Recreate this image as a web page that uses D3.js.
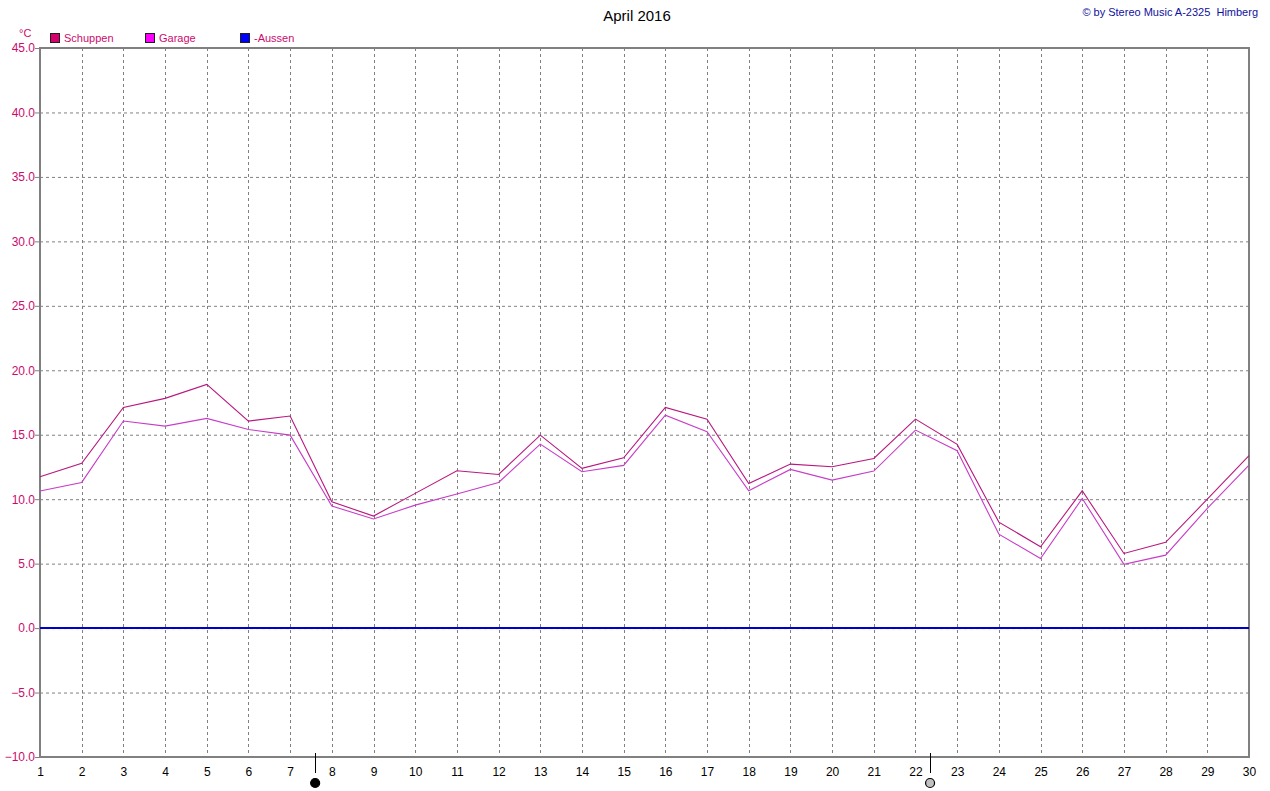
<!DOCTYPE html>
<html><head><meta charset="utf-8">
<script src="https://cdn.jsdelivr.net/npm/d3@7"></script>
<style>body{margin:0;background:#fff}svg{display:block}text{font-family:"Liberation Sans",Arial,sans-serif}</style>
</head><body><svg id="c" width="1270" height="791"></svg>
<script>
const days = d3.range(1, 31);
const schuppen = [11.74,12.78,17.12,17.82,18.9,16.06,16.45,9.8,8.69,10.45,12.2,11.92,14.97,12.39,13.21,17.12,16.21,11.22,12.72,12.52,13.16,16.21,14.25,8.22,6.31,10.65,5.79,6.65,10.0,13.37];
const garage = [10.63,11.3,16.06,15.67,16.27,15.41,14.97,9.47,8.46,9.54,10.4,11.3,14.27,12.13,12.62,16.52,15.23,10.65,12.31,11.48,12.18,15.36,13.76,7.29,5.4,10.06,4.94,5.66,9.28,12.65];
const aussen = days.map(() => 0);
const yTicks = [-10,-5,0,5,10,15,20,25,30,35,40,45];
const moons = [{day:7.6, type:"new"},{day:22.35, type:"full"}];
const legend = [{name:"Schuppen", color:"#d8006c"},{name:"Garage", color:"#ff00ff"},{name:"-Aussen", color:"#0000ff"}];

const svg = d3.select("#c");
const x = d3.scaleLinear().domain([1,30]).range([40,1249]);
const y = d3.scaleLinear().domain([-10,45]).range([757,48]);
const labelColor = "#cc0a6e";

// grid
svg.append("g").selectAll("line").data(yTicks.slice(1,-1)).join("line")
  .attr("x1",40).attr("x2",1249).attr("y1",d=>y(d)+0.5).attr("y2",d=>y(d)+0.5)
  .attr("stroke","#808080").attr("stroke-dasharray","3,3");
svg.append("g").selectAll("line").data(days.slice(1,-1)).join("line")
  .attr("x1",d=>Math.round(x(d))+0.5).attr("x2",d=>Math.round(x(d))+0.5).attr("y1",48).attr("y2",757)
  .attr("stroke","#808080").attr("stroke-dasharray","3,3");

// frame
svg.append("rect").attr("x",40).attr("y",48).attr("width",1209).attr("height",709)
  .attr("fill","none").attr("stroke","#808080").attr("stroke-width",2);

// y axis
const ya = svg.append("g").attr("transform","translate(39,0)")
  .call(d3.axisLeft(y).tickValues(yTicks).tickFormat(d3.format(".1f")).tickSize(4));
ya.select(".domain").remove();
ya.selectAll("line").attr("stroke","#808080");
ya.selectAll("text").attr("fill",labelColor).attr("font-size",12).attr("x",-4);

// x axis
const xa = svg.append("g").attr("transform","translate(0,757)")
  .call(d3.axisBottom(x).tickValues(days).tickFormat(d3.format("d")).tickSize(0));
xa.select(".domain").remove();
xa.selectAll("text").attr("fill","#000").attr("font-size",12).attr("dy",0).attr("y",19);

// lines
const line = d3.line().x((d,i)=>x(days[i])).y(d=>y(d));
svg.append("path").datum(aussen).attr("d",line).attr("fill","none").attr("stroke","#0000cc").attr("stroke-width",2);
svg.append("path").datum(garage).attr("d",line).attr("fill","none").attr("stroke","#c83cc8").attr("stroke-width",1.1);
svg.append("path").datum(schuppen).attr("d",line).attr("fill","none").attr("stroke","#b8187e").attr("stroke-width",1.1);

// moons
const mg = svg.append("g").selectAll("g").data(moons).join("g");
mg.append("line").attr("x1",d=>Math.round(x(d.day))+0.5).attr("x2",d=>Math.round(x(d.day))+0.5)
  .attr("y1",753).attr("y2",773).attr("stroke","#000");
mg.append("circle").attr("cx",d=>x(d.day)).attr("cy",783).attr("r",4.5)
  .attr("fill",d=>d.type==="new"?"#000":"#c0c0c0").attr("stroke","#000").attr("stroke-width",1.2);

// title
svg.append("text").attr("x",637).attr("y",21).attr("text-anchor","middle").attr("font-size",15).text("April 2016");
svg.append("text").attr("x",1258).attr("y",16).attr("text-anchor","end").attr("font-size",11).attr("fill","#1010a0")
  .text("© by Stereo Music A-2325  Himberg").style("white-space","pre");
svg.append("text").attr("x",19).attr("y",37).attr("font-size",11).attr("fill",labelColor).text("°C");

// legend
const lg = svg.append("g").selectAll("g").data(legend).join("g")
  .attr("transform",(d,i)=>`translate(${[50,145,240][i]},33)`);
lg.append("rect").attr("x",0.5).attr("y",0.5).attr("width",9).attr("height",9).attr("fill",d=>d.color).attr("stroke","#202020");
lg.append("text").attr("x",14).attr("y",9).attr("font-size",11).attr("fill",labelColor).text(d=>d.name);
</script></body></html>
